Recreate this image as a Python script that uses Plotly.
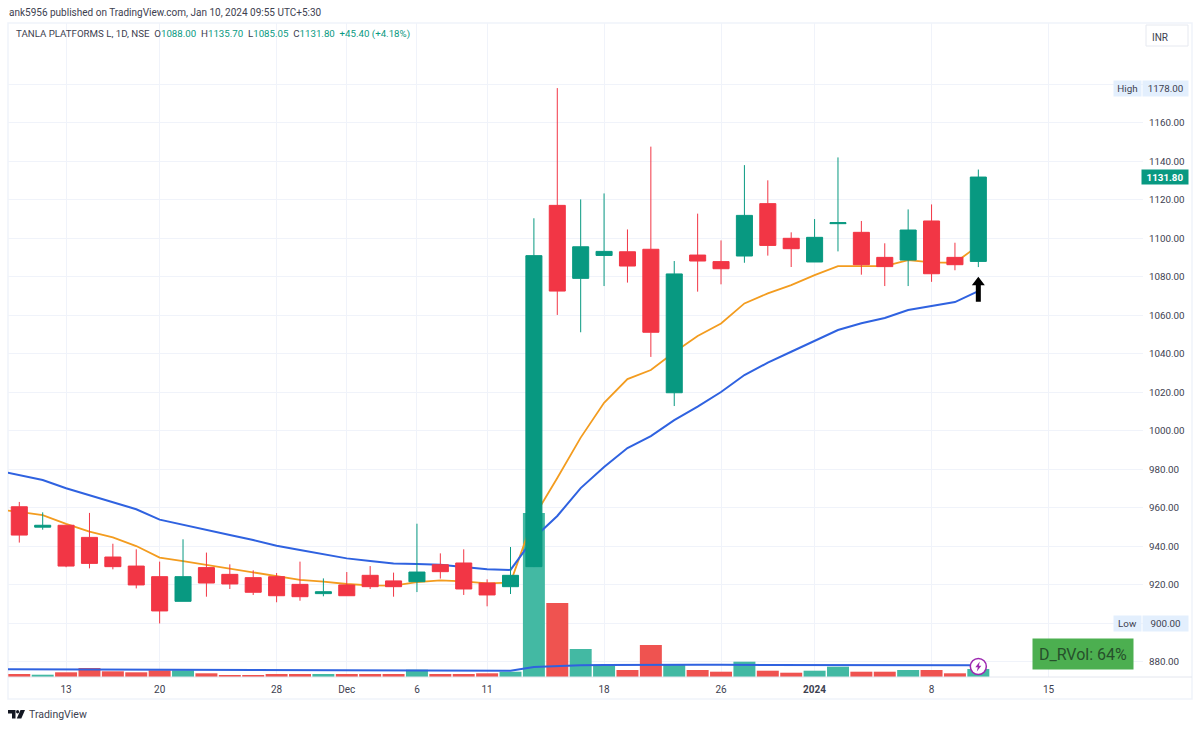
import plotly.graph_objects as go

# Sessions that carry a label on the time scale
tick_index = [2, 6, 11, 14, 17, 20, 25, 30, 34, 39, 44]
tick_text = ["13", "20", "28", "Dec", "6", "11", "18", "26", "<b>2024</b>", "8", "15"]

# Daily OHLC prices
opens = [960.6, 950.0, 951.0, 944.7, 934.5, 929.8, 924.3, 911.5, 929.0, 925.5, 923.8, 924.3, 920.3, 915.5,
         920.0, 925.0, 922.1, 921.7, 930.5, 931.4, 921.0, 919.1, 929.5, 1117.1, 1079.2, 1091.1, 1093.0,
         1094.3, 1019.8, 1091.3, 1087.9, 1090.8, 1118.0, 1100.0, 1087.7, 1107.6, 1103.1, 1090.1, 1088.7,
         1109.0, 1090.1, 1088.0]
highs = [963.1, 957.7, 951.0, 957.4, 941.4, 938.5, 932.1, 943.7, 936.8, 930.7, 927.6, 926.2, 932.1, 923.4,
         926.7, 929.8, 926.4, 951.8, 936.4, 938.5, 922.9, 939.7, 1110.4, 1178.0, 1120.2, 1123.3, 1104.6,
         1147.6, 1088.2, 1112.8, 1098.9, 1138.0, 1130.1, 1103.1, 1110.0, 1142.0, 1109.0, 1097.4, 1115.0,
         1117.6, 1097.7, 1135.7]
lows = [942.0, 948.7, 929.2, 928.6, 928.1, 918.2, 900.0, 911.5, 913.9, 917.9, 914.8, 911.0, 911.8, 914.1,
        914.4, 917.9, 913.9, 916.3, 923.3, 914.8, 908.9, 915.3, 929.3, 1060.2, 1051.2, 1075.2, 1077.0,
        1038.4, 1012.9, 1072.3, 1076.1, 1087.3, 1091.0, 1085.1, 1087.7, 1093.2, 1081.1, 1075.2, 1075.2,
        1077.4, 1083.4, 1085.05]
closes = [945.9, 951.0, 929.8, 931.2, 929.5, 920.0, 906.5, 924.3, 921.0, 920.5, 916.2, 914.4, 913.9, 916.5,
          914.4, 919.1, 919.1, 926.7, 926.9, 917.9, 914.8, 925.0, 1091.0, 1072.6, 1095.6, 1093.2, 1085.6,
          1051.2, 1081.5, 1088.2, 1084.2, 1111.9, 1096.3, 1094.6, 1100.5, 1108.1, 1086.3, 1085.3, 1104.3,
          1081.6, 1086.3, 1131.8]

# Traded volume per session, with its moving average (same arbitrary unit)
volume = [3.0, 2.3, 4.7, 9.0, 5.7, 4.7, 6.7, 6.7, 3.7, 2.0, 2.0, 3.0, 3.0, 3.0, 3.0, 3.0, 3.0, 7.3, 3.0, 3.0,
          3.7, 5.3, 164.0, 74.0, 28.0, 12.3, 7.0, 32.0, 12.3, 7.0, 5.3, 15.3, 6.3, 4.3, 6.3, 10.3, 5.3, 5.3,
          7.0, 7.0, 3.7, 8.0]
volume_avg = [7.7, 7.6, 7.5, 7.5, 7.4, 7.3, 7.2, 7.1, 7.0, 6.9, 6.8, 6.7, 6.6, 6.5, 6.4, 6.3, 6.2, 6.2, 6.2, 6.1,
              6.1, 6.1, 6.2, 10.0, 11.2, 11.8, 12.1, 12.3, 12.4, 12.4, 12.2, 12.2, 12.2, 12.2, 12.1, 11.9, 11.9,
              11.8, 11.8, 11.7, 11.7, 11.7, 11.7]

# Short and long moving averages of the close, starting one session before the first candle
ema_short = [959.2, 958.0, 956.3, 951.7, 947.7, 944.7, 940.2, 934.2, 932.4, 930.4, 928.6, 926.4, 924.3, 922.6,
             921.7, 920.5, 919.8, 919.6, 921.5, 922.4, 921.9, 920.8, 921.2, 955.3, 975.5, 996.5, 1014.6, 1026.9,
             1031.6, 1040.8, 1049.3, 1055.8, 1066.2, 1071.4, 1075.7, 1080.9, 1085.6, 1085.6, 1085.6, 1088.7,
             1087.5, 1087.3, 1096.2]
ema_long = [979.5, 977.1, 974.5, 970.2, 966.7, 963.2, 959.3, 953.9, 951.1, 948.5, 945.9, 943.3, 940.4, 938.2,
            936.1, 933.8, 932.4, 931.2, 930.9, 930.5, 929.3, 928.1, 927.8, 944.4, 955.8, 970.3, 981.2, 991.1,
            997.3, 1005.6, 1012.6, 1020.2, 1029.0, 1035.4, 1041.1, 1046.7, 1052.4, 1055.9, 1058.6, 1062.8,
            1064.8, 1066.9, 1072.6]

price_ticks = [880 + 20 * i for i in range(16)]
# 900.00 is written by the session-low tag instead of the axis
price_labels = ["" if t == 900 else f"{t:.2f}" for t in price_ticks]

UP = "#089981"
DOWN = "#f23645"
VOL_UP = "#43b9a3"
VOL_DOWN = "#ef5350"
GRID = "#f0f3fa"
TEXT = "#3d4150"
FONT = "Roboto, 'Open Sans', sans-serif"

WIDTH, HEIGHT = 1200, 729
LEFT, RIGHT, TOP, BOTTOM = 8, 1143, 23, 677
session = list(range(len(opens)))
line_session = [-1] + session


def fx(px):
    return (px - LEFT) / (RIGHT - LEFT)


def fy(px):
    return (BOTTOM - px) / (BOTTOM - TOP)


fig = go.Figure()

# Volume sits at the bottom of the stack, price averages above it, candles on top
fig.add_bar(x=session, y=volume, width=0.94, yaxis="y", xaxis="x",
            marker=dict(color=[VOL_UP if c >= o else VOL_DOWN for o, c in zip(opens, closes)], line_width=0))
fig.add_scatter(x=line_session, y=volume_avg, mode="lines", yaxis="y", xaxis="x",
                line=dict(color="#2f62e0", width=2))
fig.add_scatter(x=line_session, y=ema_short, mode="lines", yaxis="y2", xaxis="x",
                line=dict(color="#f39c1f", width=1.8))
fig.add_scatter(x=line_session, y=ema_long, mode="lines", yaxis="y2", xaxis="x",
                line=dict(color="#2f62e0", width=2))
fig.add_candlestick(x=session, open=opens, high=highs, low=lows, close=closes, yaxis="y3", xaxis="x",
                    whiskerwidth=0,
                    increasing=dict(line=dict(color=UP, width=1), fillcolor=UP),
                    decreasing=dict(line=dict(color=DOWN, width=1), fillcolor=DOWN))

price_range = [872.2, 1211.8]
fig.update_layout(
    width=WIDTH, height=HEIGHT, autosize=False,
    margin=dict(l=LEFT, r=WIDTH - RIGHT, t=TOP, b=HEIGHT - BOTTOM),
    paper_bgcolor="white", plot_bgcolor="white",
    showlegend=False, boxgap=0.02, font=dict(family=FONT, size=10, color=TEXT),
    xaxis=dict(range=[-0.483, 48.04], tickmode="array", tickvals=tick_index, ticktext=tick_text,
               showgrid=True, gridcolor=GRID, gridwidth=1, zeroline=False, showline=False,
               ticks="outside", ticklen=3, tickcolor="white", rangeslider=dict(visible=False),
               tickfont=dict(size=10, color=TEXT)),
    yaxis=dict(range=[0, 654], visible=False, fixedrange=True),
    yaxis2=dict(range=price_range, overlaying="y", visible=False),
    yaxis3=dict(range=price_range, overlaying="y", side="right", anchor="x", tickmode="array",
                tickvals=price_ticks, ticktext=price_labels, showgrid=True, gridcolor=GRID, gridwidth=1,
                zeroline=False, showline=False, ticks="outside", ticklen=3, tickcolor="white",
                tickfont=dict(size=9.8, color=TEXT)),
)

shapes = [
    # Chart frame and the rule above the time scale
    dict(type="rect", xref="paper", yref="paper", x0=fx(8), x1=fx(1192), y0=fy(699), y1=fy(23),
         line=dict(color=GRID, width=1.5), layer="below"),
    dict(type="line", xref="paper", yref="paper", x0=fx(8), x1=fx(1192), y0=fy(677), y1=fy(677),
         line=dict(color="#e3e6ee", width=1)),
    # Currency button
    dict(type="rect", xref="paper", yref="paper", x0=fx(1146), x1=fx(1188), y0=fy(46), y1=fy(25),
         line=dict(color="#e6e9f0", width=1), fillcolor="white"),
    # Logo at the foot of the chart
    dict(type="path", xref="paper", yref="paper", fillcolor="#131722", line_width=0,
         path=f"M{fx(8)},{fy(710)} L{fx(15.5)},{fy(710)} L{fx(15.5)},{fy(718.5)} L{fx(12)},{fy(718.5)} "
              f"L{fx(12)},{fy(713.5)} L{fx(8)},{fy(713.5)} Z"),
    dict(type="circle", xref="paper", yref="paper", fillcolor="#131722", line_width=0,
         x0=fx(16), x1=fx(19.2), y0=fy(713.5), y1=fy(710)),
    dict(type="path", xref="paper", yref="paper", fillcolor="#131722", line_width=0,
         path=f"M{fx(20.5)},{fy(710)} L{fx(25)},{fy(710)} L{fx(21.3)},{fy(718.5)} L{fx(16.8)},{fy(718.5)} Z"),
    # Alert badge on the last session
    dict(type="circle", xref="x", yref="paper", xsizemode="pixel", xanchor=41,
         x0=-8, x1=8, ysizemode="pixel", yanchor=fy(666.5), y0=-8, y1=8,
         fillcolor="white", line=dict(color="#9c27b0", width=1.5)),
    dict(type="path", xref="x", yref="paper", xsizemode="pixel", xanchor=41, ysizemode="pixel",
         yanchor=fy(666.5), fillcolor="#9c27b0", line_width=0,
         path="M1.5,5 L-3,-0.7 L-0.5,-0.7 L-1.5,-5 L3,0.7 L0.5,0.7 Z"),
    # Arrow marking the breakout candle, tip anchored on the price scale
    dict(type="path", xref="x", yref="y3", xsizemode="pixel", xanchor=41, ysizemode="pixel", yanchor=1080,
         fillcolor="black", line_width=0,
         path="M0,0 L6.5,-8.5 L2.5,-8.5 L2.5,-25 L-2.5,-25 L-2.5,-8.5 L-6.5,-8.5 Z"),
]
fig.update_layout(shapes=shapes)


def value_tag(text, x, y, w, bg, color=TEXT, bold=False, h=15):
    return dict(text=f"<b>{text}</b>" if bold else text, xref="paper", yref="y3", x=fx(x), y=y, width=w, height=h,
                xanchor="center", yanchor="middle", showarrow=False, bgcolor=bg, borderpad=0,
                font=dict(size=9.8, color=color))


legend_text = (f"TANLA PLATFORMS L, 1D, NSE&nbsp;&nbsp;O<span style='color:{UP}'>{opens[-1]:.2f}</span>"
               f"&nbsp;&nbsp;H<span style='color:{UP}'>{highs[-1]:.2f}</span>"
               f"&nbsp;&nbsp;L<span style='color:{UP}'>{lows[-1]:.2f}</span>"
               f"&nbsp;&nbsp;C<span style='color:{UP}'>{closes[-1]:.2f}</span>"
               f"&nbsp;&nbsp;<span style='color:{UP}'>+45.40 (+4.18%)</span>")

annotations = [
    dict(text="ank5956 published on TradingView.com, Jan 10, 2024 09:55 UTC+5:30", xref="paper", yref="paper",
         x=fx(7), y=fy(12), xanchor="left", yanchor="middle", showarrow=False, font=dict(size=10, color=TEXT)),
    dict(text=legend_text, xref="paper", yref="paper", x=fx(14), y=fy(34), xanchor="left", yanchor="middle",
         showarrow=False, font=dict(size=9.7, color=TEXT)),
    dict(text="INR", xref="paper", yref="paper", x=fx(1160), y=fy(37), xanchor="center", yanchor="middle",
         showarrow=False, font=dict(size=10, color=TEXT)),
    value_tag("High", 1127.5, 1178, 27, "#e3effd"),
    value_tag("1178.00", 1165, 1178, 45, "#e3effd"),
    value_tag("Low", 1127.5, 900, 27, "#e3effd"),
    value_tag("900.00", 1165, 900, 45, "#e3effd"),
    value_tag(f"{closes[-1]:.2f}", 1165, closes[-1], 46, UP, color="white", bold=True, h=14),
    dict(text="D_RVol: 64%", xref="paper", yref="paper", x=fx(1083), y=fy(653.5), xanchor="center", yanchor="middle",
         width=98, height=28, showarrow=False, bgcolor="#4caf50", font=dict(size=16, color="#26502b")),
    dict(text="TradingView", xref="paper", yref="paper", x=fx(27), y=fy(714), xanchor="left", yanchor="middle",
         showarrow=False, font=dict(size=10.5, color=TEXT)),
]
fig.update_layout(annotations=annotations)

fig.write_html("out.html")
